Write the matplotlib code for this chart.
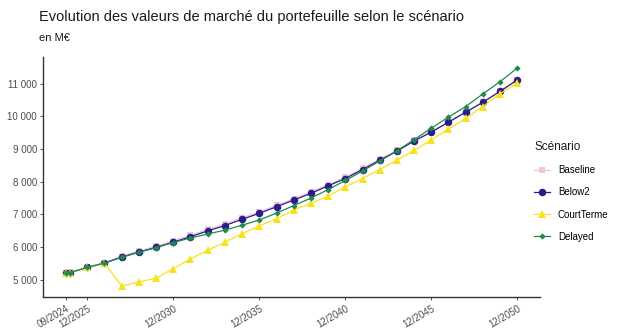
import numpy as np
import pandas as pd
import matplotlib
matplotlib.use("Agg")
import matplotlib.pyplot as plt
import matplotlib.dates as mdates

plt.rcParams['font.family'] = ['Liberation Sans', 'DejaVu Sans']

# Dates de valorisation : 09/2024, 12/2024 puis fin d'annee jusqu'a 2050
dates = pd.to_datetime(["2024-09-30", "2024-12-31"] +
                       ["%d-12-31" % a for a in range(2025, 2051)])

below2 = [5220, 5220, 5375, 5510, 5690, 5845, 5990, 6150, 6320, 6495,
          6660, 6850, 7035, 7235, 7440, 7645, 7875, 8100, 8375, 8660,
          8935, 9250, 9520, 9825, 10130, 10435, 10770, 11120]
baseline = [5225, 5225, 5385, 5525, 5725, 5880, 6030, 6195, 6365, 6540,
            6705, 6895, 7080, 7280, 7485, 7690, 7915, 8140, 8410, 8690,
            8960, 9270, 9540, 9840, 10140, 10445, 10775, 11125]
courtterme = [5220, 5220, 5375, 5510, 4805, 4930, 5050, 5335, 5640, 5900,
              6150, 6410, 6650, 6865, 7140, 7340, 7560, 7845, 8100, 8375,
              8660, 8960, 9280, 9620, 9940, 10305, 10700, 11030]
delayed = [5220, 5220, 5375, 5510, 5690, 5845, 5985, 6140, 6280, 6400,
           6520, 6670, 6830, 7040, 7270, 7500, 7760, 8040, 8330, 8637,
           8945, 9290, 9643, 9979, 10305, 10692, 11067, 11485]

tick_dates = pd.to_datetime(["2024-09-30", "2025-12-31", "2030-12-31",
                             "2035-12-31", "2040-12-31", "2045-12-31",
                             "2050-12-31"])

fig = plt.figure(figsize=(6.17, 3.30), dpi=100)
ax = fig.add_axes([0.070, 0.100, 0.805, 0.727])

series = [
    ("Baseline", baseline, "#EFC6DD", "s", 5.0),
    ("Below2", below2, "#2B1B8C", "o", 5.4),
    ("CourtTerme", courtterme, "#F8E21E", "^", 5.6),
    ("Delayed", delayed, "#1E8A4C", "D", 3.2),
]
for nom, vals, col, mk, ms in series:
    ax.plot(dates, vals, color=col, lw=0.9, marker=mk, markersize=ms,
            markeredgewidth=0, label=nom)

# etendue a la ggplot (5 %)
x0 = mdates.date2num(dates[0])
x1 = mdates.date2num(dates[-1])
dx = (x1 - x0) * 0.05
ax.set_xlim(x0 - dx, x1 + dx)
allv = np.concatenate([baseline, below2, courtterme, delayed])
dy = (allv.max() - allv.min()) * 0.05
ax.set_ylim(allv.min() - dy, allv.max() + dy)

ax.set_xticks(tick_dates)
ax.set_xticklabels([d.strftime("%m/%Y") for d in tick_dates], rotation=30,
                   ha="right", rotation_mode="anchor")
yt = np.arange(5000, 11001, 1000)
ax.set_yticks(yt)
ax.set_yticklabels(["{:,}".format(v).replace(",", " ") for v in yt])
ax.tick_params(axis="both", labelsize=7, colors="#333333", length=2.5,
               width=0.6, labelcolor="#4D4D4D", pad=2)

for s in ["top", "right"]:
    ax.spines[s].set_visible(False)
for s in ["left", "bottom"]:
    ax.spines[s].set_color("#333333")
    ax.spines[s].set_linewidth(1.0)

fig.text(0.064, 0.935, "Evolution des valeurs de marché du portefeuille selon le scénario",
         fontsize=10.5, color="#1A1A1A")
fig.text(0.064, 0.875, "en M€", fontsize=8, color="#1A1A1A")

leg = fig.legend(loc="center left", bbox_to_anchor=(0.852, 0.42),
                 frameon=False, fontsize=7, title="Scénario",
                 title_fontsize=8.5, handlelength=1.6, labelspacing=1.25,
                 alignment="left")
leg.get_title().set_color("#1A1A1A")

fig.savefig("out.png", dpi=100)
